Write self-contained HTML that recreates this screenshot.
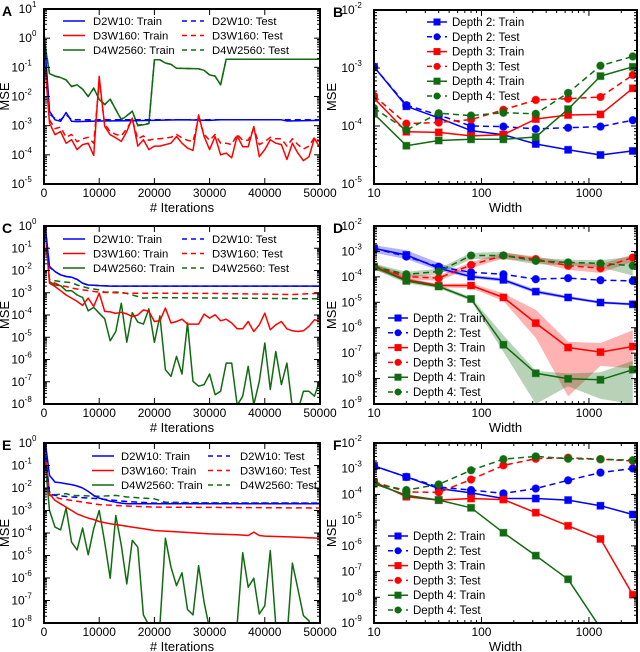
<!DOCTYPE html>
<html><head><meta charset="utf-8"><style>
body{margin:0;background:#fff}
svg{display:block;font-family:"Liberation Sans",sans-serif}
</style></head><body>
<svg id="fig" width="640" height="652" viewBox="0 0 640 652" xmlns="http://www.w3.org/2000/svg"></svg>
<script>
// ---------- Data (log10 MSE) ----------
const itersFull=[0,1000,2000,3000,4000,5000,6000,7000,8000,9000,10000,11000,12000,13000,14000,15000,16000,17000,18000,19000,20000,21000,22000,23000,24000,25000,26000,27000,28000,29000,30000,31000,32000,33000,34000,35000,36000,37000,38000,39000,40000,41000,42000,43000,44000,45000,46000,47000,48000,49000,50000];
// Panel A
const aBlueTrainX=[0,1000,2000,3000,4000,5000,6000,10000,16000,25000,30000,32000,43000,44000,50000];
const aBlueTrain=[0.2,-2.5,-2.8,-2.85,-2.55,-2.85,-2.86,-2.84,-2.83,-2.8,-2.82,-2.8,-2.8,-2.84,-2.82];
const aBlueTestX=[0,1000,2000,3000,4000,5000,10000,50000];
const aBlueTest=[0.1,-2.6,-2.75,-2.8,-2.62,-2.8,-2.8,-2.8];
const aRedTrain=[-0.5,-2.9,-3.31,-3.2,-3.6,-3.48,-3.82,-3.65,-3.6,-4.02,-1.31,-3.03,-3.31,-3.42,-3.54,-3.2,-2.74,-3.7,-3.48,-3.82,-3.7,-3.7,-3.65,-3.6,-3.37,-3.6,-3.77,-3.85,-2.63,-3.37,-3.82,-3.37,-4.0,-3.94,-4.1,-3.35,-3.72,-3.72,-3.03,-4.06,-3.82,-3.48,-3.6,-3.65,-4.16,-3.6,-3.94,-4.2,-4.06,-3.43,-3.77];
const aRedTest=[-0.4,-2.8,-3.1,-3.05,-3.4,-3.3,-3.55,-3.45,-3.4,-3.6,-1.5,-2.95,-3.2,-3.3,-3.35,-3.1,-2.8,-3.45,-3.35,-3.5,-3.45,-3.45,-3.42,-3.4,-3.3,-3.42,-3.5,-3.55,-2.75,-3.3,-3.5,-3.3,-3.6,-3.6,-3.65,-3.3,-3.5,-3.5,-3.1,-3.65,-3.55,-3.4,-3.45,-3.45,-3.7,-3.45,-3.65,-3.8,-3.7,-3.4,-3.55];
const aGreenTrainX=[0,1000,2000,3000,4000,5000,6000,7000,8000,9000,10000,11000,12000,13000,14000,15000,16000,17000,18000,19000,20000,21000,22000,23000,24000,28000,29000,30000,31000,32000,33000,50000];
const aGreenTrain=[0,-1.22,-1.3,-1.35,-1.43,-1.66,-1.6,-1.75,-2.0,-1.71,-2.1,-2.28,-2.09,-2.45,-2.8,-2.66,-2.5,-3.0,-2.97,-2.93,-0.74,-0.74,-0.85,-0.9,-1.03,-1.05,-1.1,-1.26,-1.3,-1.6,-0.72,-0.72];
const aGreenTest=[0,-1.2,-1.3,-1.35,-1.43,-1.65,-1.6,-1.75,-2.0,-1.72,-2.1,-2.27,-2.1,-2.45,-2.78,-2.65,-2.52,-2.98,-2.96,-2.92,-0.74,-0.74,-0.85,-0.9,-1.03,-1.05,-1.1,-1.26,-1.3,-1.6,-0.72,-0.72];
// Panel C
const cBlueTrainX=[0,1000,2000,3000,4000,5000,6000,7000,8000,9000,10000,12000,50000];
const cBlueTrain=[0.5,-1.82,-2.05,-2.2,-2.27,-2.3,-2.4,-2.57,-2.65,-2.66,-2.68,-2.7,-2.7];
const cBlueTest=[0.5,-1.85,-2.05,-2.2,-2.27,-2.3,-2.4,-2.57,-2.65,-2.66,-2.68,-2.7,-2.7];
const cRedTrain=[0.5,-2.57,-2.72,-2.91,-3.1,-3.24,-3.39,-3.57,-3.24,-3.62,-3.02,-3.84,-3.86,-3.93,-3.88,-3.95,-4.07,-4.0,-3.77,-3.84,-4.29,-4.26,-3.69,-4.36,-4.29,-4.19,-4.41,-4.41,-4.41,-3.96,-4.14,-3.99,-4.26,-4.19,-4.36,-4.62,-4.62,-4.29,-4.74,-4.44,-3.92,-4.66,-4.44,-4.29,-4.62,-4.71,-4.74,-4.71,-4.51,-4.21,-4.29];
const cRedTestX=[0,1000,2000,3000,4000,5000,7000,10000,15000,30000,45000,50000];
const cRedTest=[0.5,-2.42,-2.57,-2.68,-2.72,-2.79,-2.87,-2.97,-3.02,-3.03,-3.08,-3.02];
const cGreenTrain=[0.5,-2.5,-2.65,-2.68,-2.91,-2.91,-3.1,-3.21,-3.81,-3.66,-3.92,-4.17,-5.16,-4.74,-3.47,-5.22,-3.89,-4.32,-4.41,-3.72,-5.23,-4.04,-6.46,-6.76,-5.86,-6.65,-4.36,-6.98,-7.2,-7.13,-6.65,-7.58,-7.43,-6.16,-6.16,-8.06,-7.65,-6.31,-8.03,-6.98,-5.26,-7.35,-5.64,-7.13,-6.16,-8.2,-8.3,-7.43,-7.43,-7.65,-6.9];
const cGreenTestX=[0,1000,3000,5000,6000,8000,10000,11000,14000,16000,17000,18000,20000,50000];
const cGreenTest=[0.5,-2.42,-2.5,-2.55,-2.65,-2.79,-2.87,-2.97,-2.97,-3.1,-3.17,-3.24,-3.22,-3.27];
// Panel E
const eBlueTrainX=[0,1000,2000,3000,4000,5000,6000,7000,8000,9000,10000,11000,12000,13000,14000,15000,50000];
const eBlueTrain=[0.5,-1.44,-1.74,-1.77,-1.81,-1.85,-1.91,-2.0,-2.15,-2.33,-2.45,-2.52,-2.58,-2.63,-2.67,-2.7,-2.7];
const eBlueTestX=[0,1000,2000,5000,10000,15000,20000,50000];
const eBlueTest=[0.3,-2.26,-2.33,-2.4,-2.48,-2.6,-2.67,-2.67];
const eRedTrainX=[0,1000,2000,3000,4000,5000,6000,7000,8000,9000,10000,12000,14000,16000,18000,20000,25000,30000,35000,37000,38000,39000,40000,45000,50000];
const eRedTrain=[0,-2.26,-2.55,-2.7,-2.85,-3.0,-3.15,-3.25,-3.34,-3.4,-3.49,-3.59,-3.66,-3.74,-3.81,-3.89,-3.96,-4.04,-4.08,-4.11,-3.96,-4.11,-4.14,-4.18,-4.23];
const eRedTestX=[0,1000,2000,3000,5000,10000,15000,20000,50000];
const eRedTest=[0,-2.33,-2.4,-2.48,-2.55,-2.74,-2.8,-2.85,-2.89];
const eGreenTrain=[-0.3,-3.0,-3.74,-3.86,-2.89,-4.41,-4.75,-3.78,-4.97,-3.81,-3.0,-4.41,-6.01,-3.22,-4.55,-6.26,-4.33,-4.63,-7.64,-8.1,-8.7,-8.1,-4.23,-5.52,-6.34,-5.77,-7.4,-7.64,-5.45,-7.08,-8.26,-8.7,-8.7,-8.7,-8.7,-8.04,-4.88,-6.41,-6.01,-7.6,-7.23,-4.78,-8.1,-8.7,-8.7,-5.34,-6.49,-7.67,-7.9,-8.7,-8.7];
const eGreenTestX=[0,1000,2000,4000,5000,10000,13000,15000,20000,22000,30000,50000];
const eGreenTest=[-0.2,-2.18,-2.3,-2.25,-2.33,-2.37,-2.33,-2.4,-2.48,-2.63,-2.66,-2.67];
// Width panels
const widths=[10,20,40,80,160,320,640,1280,2560];
const bD2Train=[-2.98,-3.66,-3.86,-4.08,-4.15,-4.31,-4.41,-4.5,-4.43];
const bD2Test=[-2.98,-3.64,-3.81,-4.0,-4.01,-4.05,-4.03,-4.01,-3.9];
const bD3Train=[-3.52,-4.1,-4.11,-4.17,-4.15,-3.88,-3.81,-3.8,-3.35];
const bD3Test=[-3.48,-3.96,-3.94,-3.89,-3.72,-3.55,-3.53,-3.5,-3.12];
const bD4Train=[-3.79,-4.34,-4.25,-4.23,-4.23,-4.19,-3.71,-3.14,-2.98];
const bD4Test=[-3.69,-4.07,-3.78,-3.82,-3.77,-3.79,-3.43,-2.96,-2.8];
const dD2Train=[-2.88,-3.14,-3.66,-3.99,-4.12,-4.58,-4.81,-5.01,-5.08];
const dD2TrainLo=[-3.05,-3.3,-3.75,-4.05,-4.2,-4.65,-4.87,-5.06,-5.13];
const dD2TrainHi=[-2.75,-2.95,-3.45,-3.92,-4.05,-4.5,-4.75,-4.96,-5.03];
const dD2Test=[-2.88,-3.2,-3.6,-3.82,-3.9,-4.09,-4.05,-4.13,-4.16];
const dD3Train=[-3.6,-4.12,-4.34,-4.34,-4.81,-5.82,-6.78,-6.96,-6.74];
const dD3TrainLo=[-3.7,-4.2,-4.42,-4.45,-4.95,-6.4,-8.7,-7.5,-7.6];
const dD3TrainHi=[-3.5,-4.05,-4.28,-4.25,-4.65,-5.3,-6.55,-6.6,-6.1];
const dD3Test=[-3.6,-3.99,-4.05,-3.53,-3.16,-3.3,-3.56,-3.66,-3.24];
const dD3TestLo=[-3.7,-4.1,-4.15,-3.65,-3.28,-3.42,-3.72,-3.85,-3.4];
const dD3TestHi=[-3.5,-3.9,-3.95,-3.42,-3.05,-3.2,-3.42,-3.5,-3.12];
const dD4Train=[-3.6,-4.16,-4.38,-4.87,-6.67,-7.79,-8.01,-8.05,-7.65];
const dD4TrainLo=[-3.7,-4.25,-4.45,-4.95,-6.95,-9.0,-8.3,-8.8,-9.0];
const dD4TrainHi=[-3.5,-4.05,-4.3,-4.8,-6.3,-7.7,-7.8,-7.75,-7.3];
const dD4Test=[-3.6,-3.9,-3.79,-3.16,-3.16,-3.37,-3.43,-3.47,-3.56];
const dD4TestLo=[-3.72,-4.0,-3.9,-3.3,-3.3,-3.5,-3.55,-3.62,-3.95];
const dD4TestHi=[-3.48,-3.8,-3.68,-3.05,-3.02,-3.25,-3.32,-3.35,-3.2];
const fD2Train=[-2.89,-3.32,-3.77,-3.94,-4.16,-4.16,-4.22,-4.44,-4.78];
const fD2Test=[-2.89,-3.32,-3.71,-3.83,-3.96,-3.77,-3.45,-3.15,-2.99];
const fD3Train=[-3.51,-4.09,-4.22,-4.16,-4.2,-4.71,-5.22,-5.73,-7.9];
const fD3Test=[-3.51,-3.9,-3.92,-3.42,-2.87,-2.61,-2.57,-2.63,-2.7];
const fD4Train=[-3.58,-4.03,-4.22,-4.52,-5.49,-6.38,-7.3,-9.2,-10.5];
const fD4Test=[-3.58,-3.83,-3.61,-3.06,-2.63,-2.52,-2.61,-2.63,-2.67];
const timeTicks=[0,10000,20000,30000,40000,50000];
const timeTickLabels=["0","10000","20000","30000","40000","50000"];
const widthTicks=[10,100,1000];
const widthTickLabels=["10","100","1000"];

// ---------- Drawing ----------
const NS="http://www.w3.org/2000/svg";
const svg=document.getElementById('fig');
const BLUE="#0000ff",RED="#ff0000",GREEN="#116b11";
function mk(tag,attrs,parent){const e=document.createElementNS(NS,tag);for(const k in attrs)e.setAttribute(k,attrs[k]);(parent||svg).appendChild(e);return e;}
let clipId=0;
function panel(cfg){
  const g=mk('g',{});
  
  
  const L=cfg.l,R=cfg.r,T=cfg.t,B=cfg.b;
  const sx=cfg.logx?(v=>L+(Math.log10(v)-Math.log10(cfg.xmin))/(Math.log10(cfg.xmax)-Math.log10(cfg.xmin))*(R-L)):(v=>L+(v-cfg.xmin)/(cfg.xmax-cfg.xmin)*(R-L));
  const sy=e=>T+(cfg.ymax-e)/(cfg.ymax-cfg.ymin)*(B-T);
  const id='clip'+(clipId++);
  const cp=mk('clipPath',{id:id},g);mk('rect',{x:L,y:T,width:R-L,height:B-T},cp);
  const plot=mk('g',{'clip-path':'url(#'+id+')'},g);
  
  
  const ax=mk('g',{stroke:'#000','stroke-width':1},g);
  
  
  for(let e=cfg.ymin;e<=cfg.ymax;e++){
    const y=sy(e);
    mk('line',{x1:L,x2:L+6,y1:y,y2:y},ax);mk('line',{x1:R,x2:R-6,y1:y,y2:y},ax);
    const t=mk('text',{x:L-4,y:y+4,'text-anchor':'end','font-size':12,fill:'#000'},g);
    
    
    t.textContent='10';
    const s=mk('tspan',{'font-size':8,dy:-6},t);s.textContent=String(e);
    t.setAttribute('x',L-3-(String(e).length*4.6));
    if(e<cfg.ymax){for(let m=2;m<10;m++){const ym=sy(e+Math.log10(m));mk('line',{x1:L,x2:L+3,y1:ym,y2:ym},ax);mk('line',{x1:R,x2:R-3,y1:ym,y2:ym},ax);}}
  }
  cfg.xt.forEach((v,i)=>{const x=sx(v);mk('line',{x1:x,x2:x,y1:B,y2:B-6},ax);mk('line',{x1:x,x2:x,y1:T,y2:T+6},ax);
    const t=mk('text',{x:x,y:B+13,'text-anchor':'middle','font-size':12},g);
    
    
    t.textContent=cfg.xl[i];});
  if(cfg.logx){[20,30,40,50,60,70,80,90,200,300,400,500,600,700,800,900,2000].forEach(v=>{const x=sx(v);mk('line',{x1:x,x2:x,y1:B,y2:B-3},ax);mk('line',{x1:x,x2:x,y1:T,y2:T+3},ax);});}
  const fr=mk('rect',{x:L,y:T,width:R-L,height:B-T,fill:'none',stroke:'#000','stroke-width':2},g);
  
  
  const xt=mk('text',{x:(L+R)/2,y:B+28,'text-anchor':'middle','font-size':13},g);
  
  
  xt.textContent=cfg.xtitle;
  const yt=mk('text',{x:0,y:0,'text-anchor':'middle','font-size':13,transform:`translate(${cfg.ytx},${(T+B)/2}) rotate(-90)`},g);
  
  
  yt.textContent='MSE';
  const lt=mk('text',{x:cfg.lx,y:T+7,'font-size':14,'font-weight':'bold'},g);
  
  
  lt.textContent=cfg.letter;
  return {g,plot,sx,sy};
}
function line(P,xs,ys,color,dash,name){
  const n=Math.min(xs.length,ys.length);
  const d=[];for(let i=0;i<n;i++)d.push((i?'L':'M')+P.sx(xs[i]).toFixed(1)+','+P.sy(ys[i]).toFixed(1));
  const p=mk('path',{d:d.join(''),fill:'none',stroke:color,'stroke-width':1.5,'stroke-dasharray':dash?'6,4':'none','stroke-linejoin':'round'},P.plot);
  
  
}
function band(P,xs,lo,hi,color,name){
  let d='';for(let i=0;i<xs.length;i++)d+=(i?'L':'M')+P.sx(xs[i]).toFixed(1)+','+P.sy(hi[i]).toFixed(1);
  for(let i=xs.length-1;i>=0;i--)d+='L'+P.sx(xs[i]).toFixed(1)+','+P.sy(lo[i]).toFixed(1);
  const p=mk('path',{d:d+'Z',fill:color,'fill-opacity':0.3,stroke:'none'},P.plot);
  
  
}
function markers(P,xs,ys,color,sq,name){
  xs.forEach((x,i)=>{const cx=P.sx(x),cy=P.sy(ys[i]);let m;
    if(sq)m=mk('rect',{x:cx-3.5,y:cy-3.5,width:7,height:7,fill:color,stroke:color,'stroke-opacity':0.5},P.plot);
    else m=mk('circle',{cx:cx,cy:cy,r:3.8,fill:color,stroke:color,'stroke-opacity':0.5},P.plot);
    
    });
}
function series(P,ys,color,test,name){line(P,widths,ys,color,test,name);markers(P,widths,ys,color,!test,name);}
function legendTime(g,x1,x2,y0,tx1,tx2){
  const items=[["D2W10",BLUE],["D3W160",RED],["D4W2560",GREEN]];
  items.forEach((it,i)=>{const y=y0+i*14.5;
    [[x1,tx1,': Train',false],[x2,tx2,': Test',true]].forEach(c=>{
      const l=mk('line',{x1:c[0],x2:c[0]+22,y1:y,y2:y,stroke:it[1],'stroke-width':1.5,'stroke-dasharray':c[3]?'5,4':'none'},g);
      
      
      const t=mk('text',{x:c[1],y:y+4,'font-size':11.3},g);
      
      
      t.textContent=it[0]+c[2];});
  });
}
function legendWidth(g,x,y0){
  const items=[["Depth 2: Train",BLUE,0],["Depth 2: Test",BLUE,1],["Depth 3: Train",RED,0],["Depth 3: Test",RED,1],["Depth 4: Train",GREEN,0],["Depth 4: Test",GREEN,1]];
  items.forEach((it,i)=>{const y=y0+i*14.8;
    const l=mk('line',{x1:x,x2:x+20,y1:y,y2:y,stroke:it[1],'stroke-width':1.5,'stroke-dasharray':it[2]?'5,4':'none'},g);
    
    
    if(it[2])mk('circle',{cx:x+10,cy:y,r:3.5,fill:it[1]},g);else mk('rect',{x:x+6.5,y:y-3.5,width:7,height:7,fill:it[1]},g);
    const t=mk('text',{x:x+25,y:y+4,'font-size':11.5},g);
    
    
    t.textContent=it[0];});
}
const timeCfg=(letter,t,b,ymin,ymax)=>({letter,l:44,r:320,t,b,ymin,ymax,xmin:0,xmax:50000,logx:false,xt:timeTicks,xl:timeTickLabels,xtitle:'# Iterations',ytx:9,lx:2});
const widthCfg=(letter,t,b,ymin,ymax)=>({letter,l:374,r:637,t,b,ymin,ymax,xmin:10,xmax:2800,logx:true,xt:widthTicks,xl:widthTickLabels,xtitle:'Width',ytx:336,lx:333});

// A
let P=panel(timeCfg('A',9,184,-5,1));
line(P,aGreenTrainX,aGreenTest,GREEN,true,'d4w2560-test-line');
line(P,aGreenTrainX,aGreenTrain,GREEN,false,'d4w2560-train-line');
line(P,aBlueTestX,aBlueTest,BLUE,true,'d2w10-test-line');
line(P,aBlueTrainX,aBlueTrain,BLUE,false,'d2w10-train-line');
line(P,itersFull,aRedTest,RED,true,'d3w160-test-line');
line(P,itersFull,aRedTrain,RED,false,'d3w160-train-line');
legendTime(P.g,63,182,21,93,212);
// B
P=panel(widthCfg('B',10,184,-5,-2));
series(P,bD2Test,BLUE,true,'depth2-test');series(P,bD2Train,BLUE,false,'depth2-train');
series(P,bD3Test,RED,true,'depth3-test');series(P,bD3Train,RED,false,'depth3-train');
series(P,bD4Test,GREEN,true,'depth4-test');series(P,bD4Train,GREEN,false,'depth4-train');
legendWidth(P.g,427,22);
// C
P=panel(timeCfg('C',226,404,-8,0));
line(P,itersFull,cGreenTrain,GREEN,false,'d4w2560-train-line');
line(P,cGreenTestX,cGreenTest,GREEN,true,'d4w2560-test-line');
line(P,itersFull,cRedTrain,RED,false,'d3w160-train-line');
line(P,cRedTestX,cRedTest,RED,true,'d3w160-test-line');
line(P,cBlueTrainX,cBlueTest,BLUE,true,'d2w10-test-line');
line(P,cBlueTrainX,cBlueTrain,BLUE,false,'d2w10-train-line');
legendTime(P.g,63,182,239,93,212);
// D
P=panel(widthCfg('D',226,404,-9,-2));
band(P,widths,dD2TrainLo,dD2TrainHi,BLUE,'depth2-train-band');
band(P,widths,dD3TrainLo,dD3TrainHi,RED,'depth3-train-band');
band(P,widths,dD4TrainLo,dD4TrainHi,GREEN,'depth4-train-band');
band(P,widths,dD3TestLo,dD3TestHi,RED,'depth3-test-band');
band(P,widths,dD4TestLo,dD4TestHi,GREEN,'depth4-test-band');
series(P,dD2Test,BLUE,true,'depth2-test');series(P,dD2Train,BLUE,false,'depth2-train');
series(P,dD3Test,RED,true,'depth3-test');series(P,dD3Train,RED,false,'depth3-train');
series(P,dD4Test,GREEN,true,'depth4-test');series(P,dD4Train,GREEN,false,'depth4-train');
legendWidth(P.g,388,318);
// E
P=panel(timeCfg('E',443,623,-8,0));
line(P,itersFull,eGreenTrain,GREEN,false,'d4w2560-train-line');
line(P,eGreenTestX,eGreenTest,GREEN,true,'d4w2560-test-line');
line(P,eRedTrainX,eRedTrain,RED,false,'d3w160-train-line');
line(P,eRedTestX,eRedTest,RED,true,'d3w160-test-line');
line(P,eBlueTestX,eBlueTest,BLUE,true,'d2w10-test-line');
line(P,eBlueTrainX,eBlueTrain,BLUE,false,'d2w10-train-line');
legendTime(P.g,92,208,456,121,240);
// F
P=panel(widthCfg('F',443,623,-9,-2));
series(P,fD2Test,BLUE,true,'depth2-test');series(P,fD2Train,BLUE,false,'depth2-train');
series(P,fD3Test,RED,true,'depth3-test');series(P,fD3Train,RED,false,'depth3-train');
series(P,fD4Test,GREEN,true,'depth4-test');series(P,fD4Train,GREEN,false,'depth4-train');
legendWidth(P.g,388,536);
</script>
</body></html>
